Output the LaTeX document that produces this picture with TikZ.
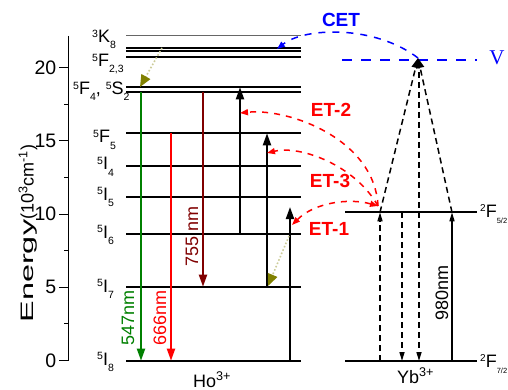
\documentclass[tikz,border=0pt]{standalone}
\usepackage{fontspec}
\usepackage{graphicx}
\setmainfont{Liberation Sans}
\newfontfamily\vfont{Liberation Serif}
\usetikzlibrary{arrows.meta,calc}
\definecolor{emgreen}{HTML}{008000}
\definecolor{emred}{HTML}{FF0000}
\definecolor{emmaroon}{HTML}{800000}
\definecolor{relaxolive}{HTML}{808000}
\definecolor{cetblue}{HTML}{0000FF}
\newcommand{\lvlname}[3]{\raisebox{5.5pt}{\fontsize{10.5}{11}\selectfont #1}#2\raisebox{-6pt}{\fontsize{10.5}{11}\selectfont #3}}
\newcommand{\ybname}[3]{\raisebox{5.5pt}{\fontsize{10}{11}\selectfont #1}#2\raisebox{-6pt}{\fontsize{7.5}{8}\selectfont #3}}

\begin{document}
\begin{tikzpicture}[x=1pt, y=-1pt, font=\fontsize{18}{21}\selectfont,
  level/.style={line width=2pt},
  lvllabel/.style={anchor=base west, inner sep=0pt},
  uparrow/.style={line width=2pt, -{Triangle[length=12pt,width=8pt]}},
  emit/.style={line width=2pt, -{Triangle[length=12pt,width=8pt]}},
  relax/.style={relaxolive!40, line width=1.6pt, dotted, -{Triangle[length=12pt,width=10pt,color=relaxolive]}},
  ybarrow/.style={line width=1.5pt, dash pattern=on 6pt off 4pt, -{Triangle[length=9pt,width=5pt]}},
  etarrow/.style={emred, line width=1.5pt, dash pattern=on 6pt off 6pt, -{Triangle[length=8pt,width=6pt]}},
  etlabel/.style={emred, font=\fontsize{19}{21}\selectfont\bfseries}]
\useasboundingbox (0,0) rectangle (508,390);

% energy axis
\draw[line width=1pt] (68,36) -- (68,361);
\foreach \e in {0,5,...,20} {
  \draw[line width=1pt] (59,{360.5-14.65*\e}) -- (68,{360.5-14.65*\e});
  \node[anchor=east, inner sep=0pt, font=\fontsize{19.5}{21}\selectfont] (tick\e) at (56.5,{360.5-14.65*\e}) {\e};
}
\foreach \e in {2.5,7.5,12.5,17.5}
  \draw[line width=1pt] (64,{360.5-14.65*\e}) -- (68,{360.5-14.65*\e});
\node[rotate=90] (ylab) at (28,233.5) {\scalebox{1.8}[1]{Energy}(10\textsuperscript{3}cm\textsuperscript{-1})};

% Ho levels
\draw[line width=0.8pt, black!60] (126,35) -- (301,35);
\foreach \y in {47.7,51,57.3,87.3,91.7,133.3,166,196.7,234,286.7,360.7}
  \draw[level] (126,\y) -- (301,\y);
\node[lvllabel] (k8) at (92,43) {\lvlname{3}{K}{8}};
\node[lvllabel] (f23) at (92,67) {\lvlname{5}{F}{2,3}};
\node[lvllabel] (f4s2) at (73,95) {\lvlname{5}{F}{4}, \lvlname{5}{S}{2}};
\node[lvllabel] (f5) at (93,143) {\lvlname{5}{F}{5}};
\node[lvllabel] (i4) at (97,170) {\lvlname{5}{I}{4}};
\node[lvllabel] (i5) at (97,200) {\lvlname{5}{I}{5}};
\node[lvllabel] (i6) at (97,238) {\lvlname{5}{I}{6}};
\node[lvllabel] (i7) at (97,292) {\lvlname{5}{I}{7}};
\node[lvllabel] (i8) at (97,365) {\lvlname{5}{I}{8}};
\node[lvllabel] (ho) at (193,387) {Ho\textsuperscript{3+}};

% Yb levels
\coordinate (yb5L) at (345,212.3);
\coordinate (yb5R) at (477,212.3);
\coordinate (yb7L) at (345,361);
\coordinate (yb7R) at (477,361);
\draw[level] (yb5L) -- (yb5R);
\draw[level] (yb7L) -- (yb7R);
\node[lvllabel] (f52) at (480,217) {\ybname{2}{F}{5/2}};
\node[lvllabel] (f72) at (480,367) {\ybname{2}{F}{7/2}};
\node[lvllabel] (yb) at (397,383) {Yb\textsuperscript{3+}};

% virtual level V
\coordinate (vL) at (342,60);
\coordinate (vR) at (477,60);
\coordinate (apex) at (418,58);
\draw[cetblue, line width=2.5pt, dash pattern=on 10pt off 9pt] (vL) -- (vR);
\node[cetblue, font=\fontsize{21}{22}\selectfont\vfont] (vlab) at (497,58) {V};

% emissions
\coordinate (g1) at (141,91.7);  \coordinate (g2) at (141,360.7);
\coordinate (r1) at (171,133.3); \coordinate (r2) at (171,360.7);
\coordinate (m1) at (203,91.7);  \coordinate (m2) at (203,286.7);
\draw[emit, emgreen] (g1) -- (g2);
\draw[emit, emred] (r1) -- (r2);
\draw[emit, emmaroon] (m1) -- (m2);
\node[rotate=90, emgreen] (l547) at (128,318) {547nm};
\node[rotate=90, emred] (l666) at (160,318) {666nm};
\node[rotate=90, emmaroon] (l755) at (192,236) {755 nm};

% pumping in Ho
\coordinate (p1a) at (240,234);   \coordinate (p1b) at (240,87.3);
\coordinate (p2a) at (267,286.7); \coordinate (p2b) at (267,133.3);
\coordinate (p3a) at (290,360.7); \coordinate (p3b) at (290,207);
\draw[uparrow] (p1a) -- (p1b);
\draw[uparrow] (p2a) -- (p2b);
\draw[uparrow] (p3a) -- (p3b);

% non-radiative relaxation
\coordinate (n1a) at (162,48);  \coordinate (n1b) at (140,87);
\coordinate (n2a) at (289,236); \coordinate (n2b) at (268,286);
\draw[relax] (n1a) -- (n1b);
\draw[relax] (n2a) -- (n2b);

% Yb transitions
\coordinate (ya) at (380,361);  \coordinate (yb1) at (380,212.3);
\coordinate (yc) at (402,212.3); \coordinate (yd) at (402,361);
\coordinate (ye) at (419,62);   \coordinate (yf) at (419,361);
\coordinate (yg) at (452,361);  \coordinate (yh) at (452,212.3);
\draw[ybarrow] (ya) -- (yb1);
\draw[ybarrow] (yc) -- (yd);
\draw[ybarrow] (ye) -- (yf);
\draw[line width=1.5pt, -{Triangle[length=9pt,width=5pt]}] (yg) -- (yh);
\node[rotate=90] (l980) at (442,293) {980nm};
\draw[ybarrow, -{Triangle[length=10pt,width=8pt]}] (yb1) -- (apex);
\draw[ybarrow, -{Triangle[length=10pt,width=8pt]}] (yh) -- (apex);

% energy transfer
\coordinate (et) at (378,206);
\draw[etarrow] (et) .. controls (375,140) and (290,108) .. (p1b |- 0,113);
\draw[etarrow] (et) .. controls (355,165) and (300,145) .. (p2b |- 0,153);
\draw[etarrow, {Triangle[length=8pt,width=6pt]}-{Triangle[length=8pt,width=6pt]}] (et) .. controls (350,198) and (315,202) .. (292,225);
\node[etlabel] (et2) at (331,110) {ET-2};
\node[etlabel] (et3) at (330,181) {ET-3};
\node[etlabel] (et1) at (329,229) {ET-1};

% cross energy transfer
\draw[cetblue, line width=1.5pt, dash pattern=on 7pt off 7pt, -{Triangle[length=8pt,width=6pt]}] (apex) .. controls (375,25) and (305,27) .. (277,49);
\node[cetblue, font=\fontsize{19}{21}\selectfont\bfseries] (cet) at (341,20) {CET};
\end{tikzpicture}
\end{document}
